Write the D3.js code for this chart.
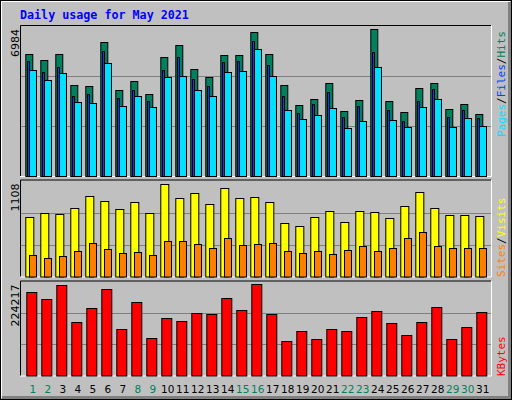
<!DOCTYPE html>
<html><head><meta charset="utf-8">
<script src="https://cdn.jsdelivr.net/npm/d3@7"></script>
<style>body{margin:0;background:#fff}svg{display:block}</style>
</head><body>
<script>
const days = d3.range(1, 32);
const weekend = [1,2,8,9,15,16,22,23,29,30];
const hits  = [5680,5401,5680,4237,4190,6239,4004,4423,3818,5541,6099,4982,4609,5634,5634,6705,5680,4237,3306,3585,4330,3026,3539,6844,3492,2980,4097,4330,3120,3352,2887];
const files = [5354,4842,5075,3725,3818,5820,3632,4004,3492,4935,5541,4516,4190,5308,5354,6286,5168,3725,2933,3352,3911,2747,3259,5773,3073,2561,3492,4051,2747,3073,2700];
const pages = [4935,4470,4796,3445,3399,5261,3259,3725,3213,4609,4656,4004,3725,4842,4889,5913,4656,3073,2654,2840,3166,2235,2561,5075,2607,2281,3213,3585,2281,2700,2328];
const visits= [682,728,717,786,924,866,774,855,728,1062,901,958,832,1016,901,912,855,613,579,682,751,625,751,740,671,809,970,786,705,705,694];
const sites = [245,211,234,291,383,314,268,280,245,406,406,372,326,441,360,372,383,291,268,291,257,303,349,291,326,441,510,349,326,326,326];
const kbytes= [198075,181437,214713,126768,160045,205206,110130,174306,88738,136276,129145,148160,145783,183814,155291,217090,145783,81607,105376,86361,110130,105376,138653,152914,124391,95868,126768,162422,86361,114884,150537];
const maxHits = 6984, maxVisits = 1108, maxKB = 224217;

const W = 512, H = 400;
const svg = d3.select("body").append("svg").attr("width", W).attr("height", H);
svg.append("rect").attr("width", W).attr("height", H).attr("fill", "#C0C0C0");
// bevel
svg.append("rect").attr("x",0.5).attr("y",0.5).attr("width",W-1).attr("height",H-1).attr("fill","none").attr("stroke","#000");
svg.append("path").attr("d",`M1.5,${H-2}V1.5H${W-2}`).attr("stroke","#fff").attr("stroke-width",1).attr("fill","none");
svg.append("path").attr("d",`M${W-2.5},2V${H-2.5}H2`).attr("stroke","#808080").attr("stroke-width",3).attr("fill","none");

const mono = "'DejaVu Sans Mono', monospace";
svg.append("text").attr("x",20).attr("y",19).text("Daily usage for May 2021")
  .attr("font-family",mono).attr("font-weight","bold").attr("font-size",11.7).attr("fill","#0000FF");

const x = d3.scaleBand().domain(days).range([21.3, 21.3 + 15*31]);
const L = 20, R = 491;

function panel(y0, y1, max){
  const y = d3.scaleLinear().domain([0, max]).range([y1, y0]);
  [max/3, 2*max/3].forEach(v => svg.append("line").attr("x1",L).attr("x2",R)
     .attr("y1",Math.round(y(v))+0.5).attr("y2",Math.round(y(v))+0.5).attr("stroke","#808080"));
  svg.append("path").attr("d",`M${L+0.5},${y1+0.5}V${y0-0.5}H${R}`).attr("stroke","#000").attr("fill","none");
  svg.append("path").attr("d",`M${L},${y1+0.5}H${R+0.5}V${y0-0.5}`).attr("stroke","#fff").attr("fill","none");
  svg.append("text").attr("transform",`translate(19,${y0+3}) rotate(-90)`).attr("text-anchor","end")
    .attr("font-family","'DejaVu Sans', sans-serif").attr("font-size",11).attr("fill","#000").text(d3.format("d")(max));
  return y;
}
function bars(data, y, off, w, color){
  svg.append("g").selectAll("rect").data(data).join("rect")
    .attr("x",(d,i)=>x(days[i])+off+0.5).attr("width",w)
    .attr("y",d=>Math.round(y(d))+0.5).attr("height",d=>y(0)-Math.round(y(d)))
    .attr("fill",color).attr("stroke","#000").attr("stroke-width",1);
}
const y1 = panel(26, 176, maxHits);
bars(hits, y1, 4, 7, "#00805C");
bars(pages, y1, 7.7, 7, "#00E0FF");
bars(files, y1, 5.7, 2, "#0040FF");

const y2 = panel(180.5, 276.5, maxVisits);
bars(visits, y2, 4, 8, "#FFFF00");
bars(sites, y2, 7.7, 7, "#FF8000");

const y3 = panel(281.5, 375.5, maxKB);
bars(kbytes, y3, 5, 10, "#FF0000");

// x labels
svg.append("g").selectAll("text").data(days).join("text")
  .attr("x",d=>x(d)+11.5).attr("y",393).attr("text-anchor","middle")
  .attr("font-family","'DejaVu Sans', sans-serif").attr("font-size",10.5)
  .attr("fill",d=>weekend.includes(d)?"#00805C":"#000").text(d=>d);

// right legends
function legend(yb, parts){
  const t = svg.append("text").attr("transform",`translate(505,${yb}) rotate(-90)`)
    .attr("font-family",mono).attr("font-size",11);
  parts.forEach(([s,c])=>t.append("tspan").attr("fill",c).text(s));
}
legend(137, [["Pages","#00E0FF"],["/","#000"],["Files","#0040FF"],["/","#000"],["Hits","#00805C"]]);
legend(277, [["Sites","#FF8000"],["/","#000"],["Visits","#FFFF00"]]);
legend(376, [["KBytes","#FF0000"]]);
</script>
</body></html>
